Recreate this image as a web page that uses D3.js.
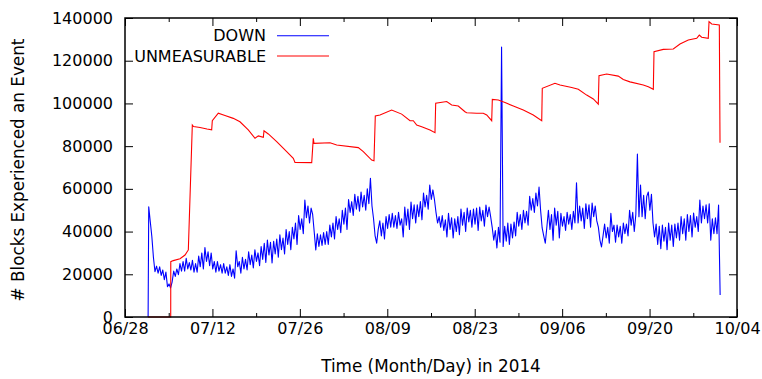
<!DOCTYPE html>
<html>
<head>
<meta charset="utf-8">
<script src="https://cdn.jsdelivr.net/npm/d3@7"></script>
<style>
  body { margin: 0; background: #fff; }
  svg { display: block; }
  text { font-family: "DejaVu Sans", sans-serif; fill: #000; }
</style>
</head>
<body>
<svg id="chart" width="762" height="379"></svg>
<script>
// Series names and colours (key order)
const seriesNames = ["DOWN", "UNMEASURABLE"];
const seriesColors = ["#0000ff", "#ff0000"];

// Axis ticks
const xTickDates = ["2014-06-28", "2014-07-12", "2014-07-26", "2014-08-09",
                    "2014-08-23", "2014-09-06", "2014-09-20", "2014-10-04"];
const xMinorDates = ["2014-07-05", "2014-07-19", "2014-08-02", "2014-08-16",
                     "2014-08-30", "2014-09-13", "2014-09-27"];
const yTicks = [0, 20000, 40000, 60000, 80000, 100000, 120000, 140000];

// Time is counted in days after 2014-06-28 00:00 UTC
const epoch = Date.UTC(2014, 5, 28);

// DOWN: series starts reporting at downOnsetDay (value 0), then one sample every 6 h
const downOnsetDay = 3.7;
const downFirstDay = 3.8;
const downStepDays = 0.25;
const downValues = [
  51600, 44600, 37600, 28000,  21200, 23800, 20500, 23500,  19500, 22000, 17500, 21000,
  14200, 15500, 13600, 16500,  21500, 19000, 22500, 19800,  25000, 21500, 26000, 21500,
  27500, 22500, 25500, 22000,  26500, 21000, 25000, 21000,  28500, 23500, 30000, 22500,
  32500, 26000, 30500, 24000,  30000, 22500, 26000, 21000,  26000, 21500, 24500, 20500,
  25000, 20500, 23500, 19500,  24500, 19000, 22500, 18200,  31000, 23500, 26000, 20500,
  28000, 22500, 27000, 22000,  30500, 24500, 29000, 23000,  31500, 26000, 30000, 24000,
  33000, 27000, 34500, 25500,  36000, 29000, 35000, 25300,  35500, 29500, 36500, 28000,
  38500, 31500, 37000, 29500,  41000, 34000, 40000, 31500,  42000, 36500, 44000, 34000,
  47500, 41000, 46000, 39000,  54800, 46500, 52000, 44000,  51000, 48000, 39800, 31400,
  39000, 33000, 38500, 33500,  39500, 34000, 40000, 34000,  43000, 37500, 44000, 36500,
  47000, 41000, 46000, 39500,  50000, 43500, 51000, 41000,  55000, 49000, 54000, 47500,
  57500, 50500, 56500, 49500,  58500, 51500, 57000, 50000,  60000, 53000, 65000, 52000,
  46000, 38000, 34600, 41000,  45000, 38000, 44000, 36500,  47000, 41500, 48000, 42000,
  48500, 42000, 47500, 41500,  49000, 43000, 46000, 37500,  51500, 43000, 50500, 41000,
  53800, 46000, 52500, 44000,  52500, 47000, 54000, 45500,  58000, 51500, 57000, 50500,
  61800, 55000, 59500, 55000,  49000, 44000, 47000, 42000,  47500, 40500, 45500, 37500,
  48500, 41000, 46500, 37000,  46000, 40000, 47000, 38500,  50500, 43000, 49000, 40000,
  51000, 44500, 50000, 42000,  50500, 43500, 51000, 40500,  51500, 45000, 50000, 42500,
  52400, 47000, 51500, 47000,  42000, 36000, 40500, 32300,  42000, 35000, 126400, 33000,
  42500, 35500, 44000, 34000,  43500, 37000, 44500, 38000,  49000, 42500, 48000, 41000,
  50000, 44000, 49500, 43000,  56500, 50000, 55500, 49000,  58000, 52000, 60900, 50000,
  41700, 38000, 34600, 42000,  50000, 41000, 48000, 36000,  51000, 43000, 49500, 37000,
  48500, 42500, 47000, 40500,  49000, 43500, 48000, 41000,  49500, 44000, 62800, 44000,
  52000, 45000, 51000, 41500,  53000, 46000, 52500, 42000,  53400, 47000, 52000, 45000,
  42100, 36000, 32800, 38000,  43500, 37000, 42000, 34600,  48500, 40000, 43000, 35000,
  43000, 37500, 42500, 34600,  44000, 39000, 43500, 38000,  50000, 43000, 49000, 40000,
  48000, 76300, 47000, 61800,  47000, 57000, 46000, 56500,  58500, 50000, 57500, 44000,
  37500, 43500, 34000, 42500,  32000, 43000, 35500, 42000,  31500, 44000, 36000, 43000,
  33000, 43500, 37000, 44000,  36000, 47000, 39000, 46000,  36000, 48000, 40000, 47500,
  37500, 48700, 42000, 47000,  40000, 54800, 44000, 52000,  46000, 52500, 44000, 53000,
  36000, 46000, 39000, 46500,  39000, 52400, 10300
];

// UNMEASURABLE: breakpoints (day, blocks)
const unmeasDays = [
  3.68, 7.32, 7.33, 7.73, 8.81, 9.61, 10.14, 10.78, 10.97, 12.01,
  13.13, 13.88, 13.98, 14.94, 16.01, 17.34, 18.41, 19.74, 20.82, 21.35,
  22.15, 22.26, 22.95, 24.29, 25.89, 26.95, 27.22, 29.90, 30.15, 30.26,
  32.83, 33.90, 37.36, 38.16, 39.50, 39.87, 40.08, 40.83, 42.70, 44.31,
  45.64, 46.17, 46.71, 47.51, 48.84, 49.64, 49.75, 51.51, 52.31, 53.37,
  54.44, 54.71, 56.32, 57.37, 57.92, 58.72, 58.82, 59.78, 60.85, 62.18,
  63.78, 65.38, 66.73, 66.82, 68.85, 69.66, 71.53, 72.59, 73.93, 74.99,
  75.79, 75.90, 77.13, 78.99, 79.79, 80.86, 82.99, 83.80, 84.60, 84.71,
  86.20, 87.80, 88.87, 90.20, 91.55, 91.96, 92.34, 93.40, 93.52, 93.95,
  95.17, 95.28
];
const unmeasValues = [
  0, 0, 25900, 26400, 27300, 29000, 31400, 89900, 89200, 88700,
  88000, 87600, 91900, 95400, 94300, 93000, 91400, 87600, 83700, 84800,
  84100, 87200, 85700, 82100, 77400, 74300, 72400, 72300, 83700, 81300,
  81600, 80500, 79300, 77400, 73500, 73200, 94100, 94600, 96900, 95000,
  91900, 91900, 89900, 89100, 87600, 86300, 100100, 100900, 99300, 98800,
  96100, 95600, 95400, 95400, 94600, 91900, 101900, 101600, 100400, 98800,
  96900, 94600, 91900, 107100, 109400, 108600, 107500, 106600, 103900, 102100,
  99700, 113000, 113800, 112800, 111200, 110100, 108600, 107800, 106600, 124200,
  125300, 125500, 127800, 129700, 130500, 132000, 131000, 130500, 138300, 137200,
  136700, 81600
];

const dayToDate = d => new Date(epoch + d * 864e5);
const parseDay = d3.utcParse("%Y-%m-%d");
const fmtTick = d3.utcFormat("%m/%d");

const downSeries = [{ t: dayToDate(downOnsetDay), v: 0 }].concat(
  downValues.map((v, i) => ({ t: dayToDate(downFirstDay + i * downStepDays), v }))
);
const unmeasSeries = unmeasDays.map((d, i) => ({ t: dayToDate(d), v: unmeasValues[i] }));

const W = 762, H = 379;
const margin = { top: 18, right: 25, bottom: 62, left: 125 };
const iw = W - margin.left - margin.right;
const ih = H - margin.top - margin.bottom;

const svg = d3.select("#chart");
const g = svg.append("g").attr("transform", `translate(${margin.left},${margin.top})`);

const x = d3.scaleUtc()
  .domain([parseDay(xTickDates[0]), parseDay(xTickDates[xTickDates.length - 1])])
  .range([0, iw]);
const y = d3.scaleLinear().domain([0, 140000]).range([ih, 0]);

const majorX = xTickDates.map(parseDay);
const minorX = xMinorDates.map(parseDay);

function styleAxis(sel) {
  sel.select(".domain").remove();
  sel.selectAll("line").attr("stroke", "#000").attr("stroke-width", 1);
  sel.selectAll("text").attr("font-family", "DejaVu Sans, sans-serif")
     .attr("font-size", 16).attr("fill", "#000");
}

// Bottom axis with labels, ticks pointing into the plot
g.append("g").attr("transform", `translate(0,${ih})`)
  .call(d3.axisBottom(x).tickValues(majorX).tickFormat(fmtTick).tickSize(-8).tickPadding(6))
  .call(styleAxis);
g.append("g").attr("transform", `translate(0,${ih})`)
  .call(d3.axisBottom(x).tickValues(minorX).tickFormat("").tickSize(-4))
  .call(styleAxis);
// Mirrored top ticks
g.append("g")
  .call(d3.axisTop(x).tickValues(majorX).tickFormat("").tickSize(-8))
  .call(styleAxis);
g.append("g")
  .call(d3.axisTop(x).tickValues(minorX).tickFormat("").tickSize(-4))
  .call(styleAxis);
// Left axis with labels, mirrored right ticks
g.append("g")
  .call(d3.axisLeft(y).tickValues(yTicks).tickFormat(d3.format("d")).tickSize(-8).tickPadding(12))
  .call(styleAxis);
g.append("g").attr("transform", `translate(${iw},0)`)
  .call(d3.axisRight(y).tickValues(yTicks).tickFormat("").tickSize(-8))
  .call(styleAxis);

// Data lines
const line = d3.line().x(d => x(d.t)).y(d => y(d.v));
const plot = g.append("g");
plot.append("path").datum(downSeries)
  .attr("fill", "none").attr("stroke", seriesColors[0]).attr("stroke-width", 1.1)
  .attr("stroke-linejoin", "round").attr("d", line);
plot.append("path").datum(unmeasSeries)
  .attr("fill", "none").attr("stroke", seriesColors[1]).attr("stroke-width", 1.1)
  .attr("d", line);

// Plot border
g.append("rect").attr("x", 0).attr("y", 0).attr("width", iw).attr("height", ih)
  .attr("fill", "none").attr("stroke", "#000").attr("stroke-width", 1.5);

// Key
const key = g.append("g");
seriesNames.forEach((name, i) => {
  const ky = 17.7 + i * 20.3;
  key.append("text").attr("x", 141).attr("y", ky).attr("dy", "0.36em")
    .attr("text-anchor", "end").attr("font-size", 16).text(name);
  key.append("line").attr("x1", 152).attr("x2", 204).attr("y1", ky).attr("y2", ky)
    .attr("stroke", seriesColors[i]).attr("stroke-width", 1.1);
});

// Axis titles
svg.append("text")
  .attr("transform", `translate(24,170) rotate(-90)`)
  .attr("text-anchor", "middle").attr("font-size", 16.8)
  .text("# Blocks Experienced an Event");
svg.append("text")
  .attr("x", margin.left + iw / 2).attr("y", 372)
  .attr("text-anchor", "middle").attr("font-size", 16.8)
  .text("Time (Month/Day) in 2014");
</script>
</body>
</html>
